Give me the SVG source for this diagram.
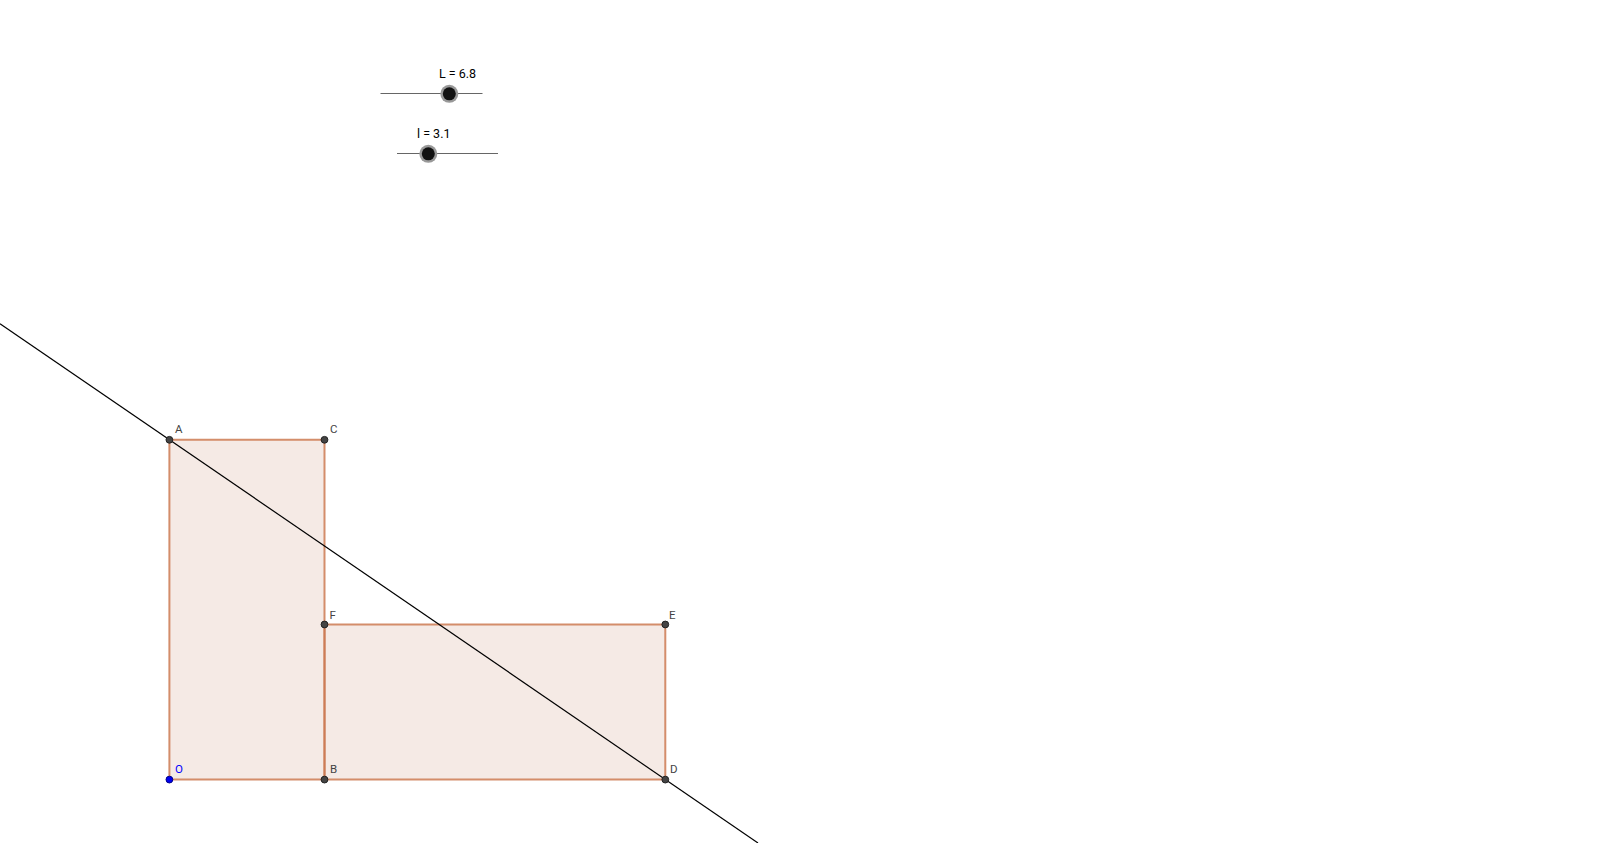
<svg xmlns="http://www.w3.org/2000/svg" width="1600" height="843" viewBox="0 0 1600 843">
<style>
.poly{fill:#993300;fill-opacity:0.1;stroke:#cc7a52;stroke-opacity:0.85;stroke-width:2}
.pt{fill:#444;stroke:#222;stroke-width:1}
.lbl{font-family:"Roboto","Liberation Sans",sans-serif;font-size:11.5px;fill:#444}
.slbl{font-family:"Roboto","Liberation Sans",sans-serif;font-size:12.5px;fill:#000}
.track{stroke:#666;stroke-width:1}
.knobh{fill:#999}
.knob{fill:#111}
</style>
<rect width="1600" height="843" fill="#fff"/>
<g id="sliderL">
<line class="track" x1="380.5" y1="93.5" x2="482.5" y2="93.5"/>
<circle class="knobh" cx="449.3" cy="93.8" r="9"/>
<circle class="knob" cx="449.3" cy="93.8" r="6.5"/>
<text class="slbl" x="439" y="77.7">L = 6.8</text>
</g>
<g id="sliderl">
<line class="track" x1="397" y1="153.5" x2="498" y2="153.5"/>
<circle class="knobh" cx="428.3" cy="153.8" r="9"/>
<circle class="knob" cx="428.3" cy="153.8" r="6.5"/>
<text class="slbl" x="417" y="137.7">l = 3.1</text>
</g>
<g id="rect1"><polygon class="poly" points="169.4,779.6 169.4,439.8 324.5,439.8 324.5,779.6"/></g>
<g id="rect2"><polygon class="poly" points="324.5,779.6 324.5,624.5 665.3,624.5 665.3,779.6"/></g>
<g id="connectors">
<line x1="0" y1="323.7" x2="758" y2="843" stroke="#000" stroke-width="1.2"/>
</g>
<g id="A"><circle class="pt" cx="169.4" cy="439.8" r="3.4"/><text class="lbl" x="175" y="433.3">A</text></g>
<g id="C"><circle class="pt" cx="324.5" cy="439.8" r="3.4"/><text class="lbl" x="330" y="433.3">C</text></g>
<g id="F"><circle class="pt" cx="324.5" cy="624.5" r="3.4"/><text class="lbl" x="329.5" y="619.3">F</text></g>
<g id="E"><circle class="pt" cx="665.3" cy="624.5" r="3.4"/><text class="lbl" x="669" y="619.3">E</text></g>
<g id="O"><circle cx="169.4" cy="779.6" r="3.4" fill="#0000ee" stroke="#00008b" stroke-width="1"/><text class="lbl" x="175" y="773" style="fill:#0000ff">O</text></g>
<g id="B"><circle class="pt" cx="324.5" cy="779.6" r="3.4"/><text class="lbl" x="330" y="773">B</text></g>
<g id="D"><circle class="pt" cx="665.3" cy="779.6" r="3.4"/><text class="lbl" x="670" y="773">D</text></g>
</svg>
